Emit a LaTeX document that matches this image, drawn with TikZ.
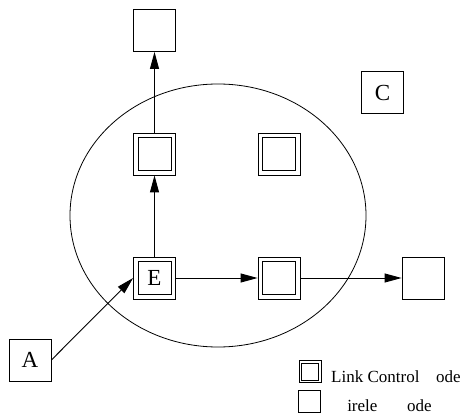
\documentclass[tikz,border=0pt]{standalone}
\usepackage{fontspec}
\setmainfont{Liberation Serif}
\usetikzlibrary{arrows.meta}
\begin{document}
\begin{tikzpicture}[x=1pt,y=-1pt,
  plainbox/.style={draw, line width=0.8pt, minimum size=42pt, inner sep=0pt,
    font=\fontsize{23}{25}\selectfont},
  linkbox/.style={plainbox},
  innerbox/.style={draw, line width=0.8pt},
  keyplain/.style={draw, line width=0.7pt, minimum size=22pt, inner sep=0pt},
  keytext/.style={anchor=base west, inner sep=0pt, font=\fontsize{17}{20}\selectfont},
  link/.style={line width=0.9pt, -{Triangle[length=17pt,width=9pt]}}
]
\useasboundingbox (0,0) rectangle (462,414);

% cluster boundary
\draw[line width=0.8pt] (218,215.5) ellipse [x radius=148pt, y radius=131.5pt];

% nodes
\node[plainbox] (top) at (154.5,30.5) {};
\node[plainbox] (c) at (382.5,92.5) {C};
\node[linkbox] (lc1) at (154.5,154) {};
\node[linkbox] (lc2) at (279,154) {};
\node[linkbox] (e) at (154.5,278) {E};
\node[linkbox] (lc3) at (279,278) {};
\node[plainbox] (w1) at (423,278) {};
\node[plainbox] (a) at (30,360) {A};

% inner frame of the link control nodes
\foreach \n in {lc1,lc2,e,lc3}
  \draw[innerbox] ([shift={(-16.5,-16.5)}]\n.center) rectangle ([shift={(16.5,16.5)}]\n.center);

% links
\draw[link] (lc1) -- (top);
\draw[link] (e) -- (lc1);
\draw[link] (e) -- (lc3);
\draw[link] (lc3) -- (w1);
\draw[link] (a.east) -- (e.west);

% key
\node[keyplain] (k1) at (310,371.5) {};
\draw[line width=0.7pt] ([shift={(-8.5,-8.5)}]k1.center) rectangle ([shift={(8.5,8.5)}]k1.center);
\node[keyplain] (k2) at (309.5,401.5) {};
\node[keytext] (k1t) at (331,382) {Link Control \phantom{N}ode};
\node[keytext] (k2t) at (331,411.5) {\phantom{W}irele\phantom{ss} \phantom{N}ode};
\end{tikzpicture}
\end{document}
